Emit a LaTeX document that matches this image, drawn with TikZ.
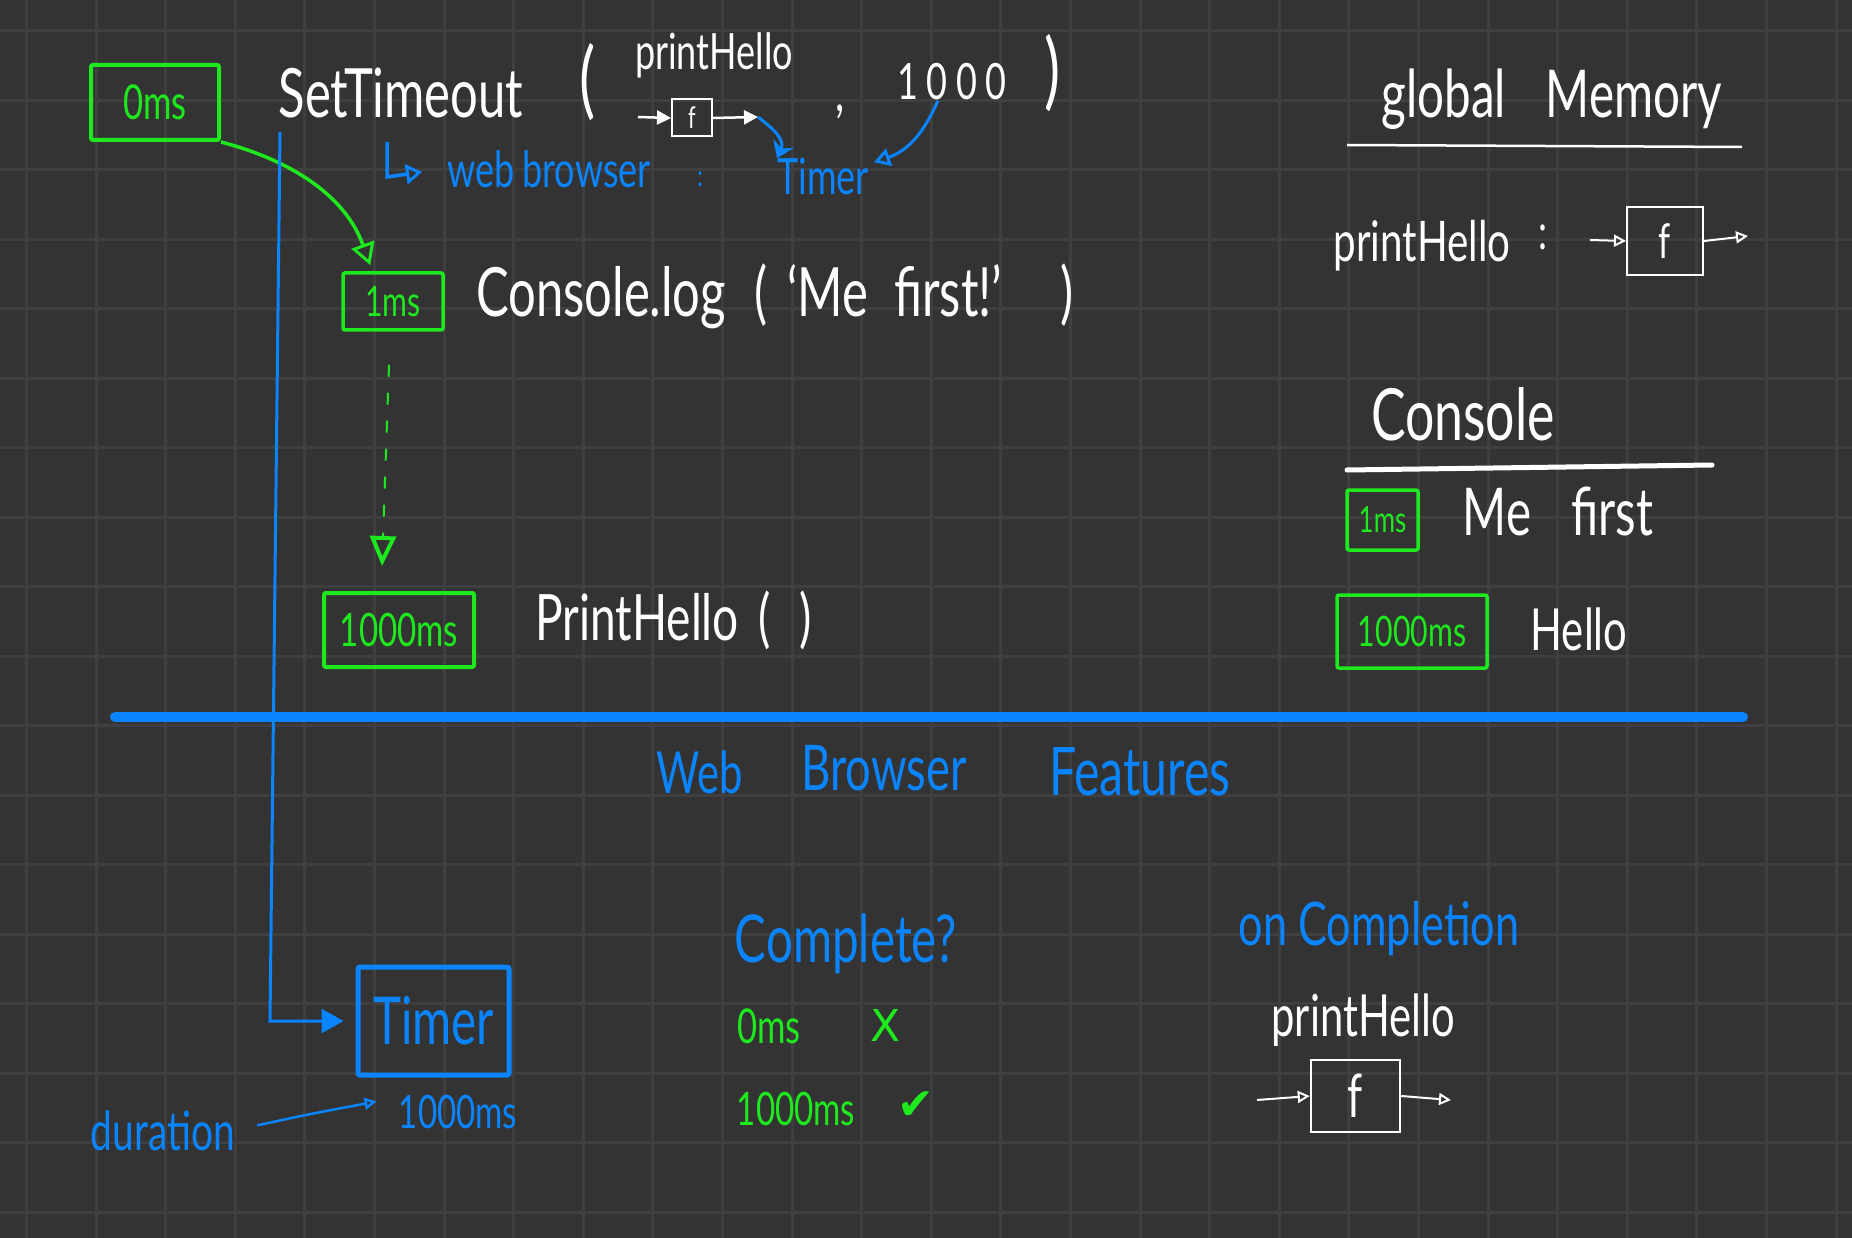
\documentclass[tikz,border=0pt]{standalone}
\usepackage{fontspec}
\setmainfont{Lato}[FakeStretch=0.72]
\newfontfamily\symfont{DejaVu Sans}
\usetikzlibrary{arrows.meta}
\definecolor{bg}{HTML}{333333}
\definecolor{gridc}{HTML}{3F3F3F}
\definecolor{pgreen}{HTML}{1EE81E}
\definecolor{pblue}{HTML}{0A84FF}
\newcommand\fsz[1]{\fontsize{#1}{#1}\selectfont}
\begin{document}
\begin{tikzpicture}[x=1pt,y=-1pt,
  wt/.style={text=white, inner sep=0pt},
  gt/.style={text=pgreen, inner sep=0pt},
  bt/.style={text=pblue, inner sep=0pt},
  gbox/.style={draw=pgreen, text=pgreen, line width=4pt, rounded corners=2pt, inner sep=0pt},
  wbox/.style={draw=white, text=white, line width=2pt, inner sep=0pt},
  bbox/.style={draw=pblue, text=pblue, line width=5pt, rounded corners=2pt, inner sep=0pt},
  garrow/.style={draw=pgreen, line width=3.5pt, -{Triangle[open, length=22pt, width=24pt, line width=3pt]}},
  gdash/.style={draw=pgreen, line width=2pt, dash pattern=on 12pt off 16pt, -{Triangle[open, length=30pt, width=26pt, line width=4pt]}},
  bthin/.style={draw=pblue, line width=3pt},
  warrow/.style={draw=white, line width=2.5pt, -{Triangle[length=14pt, width=14pt]}},
  wopen/.style={draw=white, line width=2pt, -{Triangle[open, length=12pt, width=12pt, line width=2pt]}},
]
\fill[bg] (0,0) rectangle (1852,1238);
\useasboundingbox (0,0) rectangle (1852,1238);
% grid
\foreach \i in {0,...,26} \draw[gridc, line width=3pt] ({26.4+69.6*\i},0) -- ++(0,1238);
\foreach \j in {0,...,17} \draw[gridc, line width=3pt] (0,{30.7+69.5*\j}) -- ++(1852,0);

% ---------- top line: SetTimeout ----------
\node[gbox, minimum width=128pt, minimum height=75pt, font=\fsz{48}] (b0) at (155,102.5) {0ms};
\node[wt, font=\fsz{68}, anchor=base] (st) at (401,118) {SetTimeout};
\node[wt, font=\fsz{84}] (lp) at (588,82) {(};
\node[wt, font=\fsz{50}, anchor=base] (ph) at (714,70) {printHello};
\node[wbox, minimum width=40pt, minimum height=37pt, font=\fsz{30}] (fa) at (692,118) {f};
\coordinate (fa0) at (638,117);
\coordinate (fa1) at (758,117);
\draw[warrow] (fa0) -- (fa.west);
\draw[warrow] (fa.east) -- (fa1);
\node[wt, font=\fsz{56}, anchor=base] (cm) at (840,112) {,};
\node[wt, font=\fsz{50}, anchor=base] (th) at (952,100) {1\,0\,0\,0};
\node[wt, font=\fsz{84}] (rp) at (1053,73) {)};

% web browser : Timer
\coordinate (la) at (387,142);
\coordinate (lb) at (387,177);
\draw[pblue, line width=3.5pt, -{Triangle[open, length=16pt, width=20pt, line width=3pt]}] (la) -- (lb) -- (422,172);
\node[bt, font=\fsz{50}, anchor=base] (wb) at (549,188) {web\hspace{8pt}browser};
\node[bt, font=\fsz{30}, anchor=base] (col) at (700,187) {:};
\node[bt, font=\fsz{50}, anchor=base] (tm) at (823,195) {Timer};
\draw[bthin, -{Stealth[length=16pt, width=22pt]}] (fa1) .. controls (775,130) and (785,140) .. (tm.north west);
\draw[bthin, -{Triangle[open, length=16pt, width=18pt, line width=3pt]}] ([xshift=-14pt]th.south) .. controls (925,130) and (910,150) .. ([xshift=5pt,yshift=-4pt]tm.north east);

% ---------- Console.log ----------
\node[gbox, minimum width=100pt, minimum height=57pt, line width=3.5pt, font=\fsz{42}] (b1) at (393,301.5) {1ms};
\node[wt, font=\fsz{68}, anchor=base west] (cl) at (476,317) {Console.log\hspace{28pt}(\hspace{20pt}‘Me\hspace{26pt}first!’\hspace{58pt})};
\draw[garrow] (b0.south east) .. controls (290,160) and (345,195) .. ([xshift=29pt,yshift=6pt]b1.north west);

% ---------- printHello() ----------
\node[gbox, minimum width=150pt, minimum height=74pt, font=\fsz{46}] (b2) at (399,630) {1000ms};
\draw[gdash] ([xshift=-4pt,yshift=-33pt]b1.south) -- ([xshift=-17pt,yshift=25pt]b2.north);
\node[wt, font=\fsz{64}, anchor=base west] (pc) at (535,640) {PrintHello\hspace{20pt}(\hspace{28pt})};

% ---------- divider ----------
\coordinate (dl) at (115,717);
\coordinate (dr) at (1743,717);
\draw[pblue, line width=10pt, line cap=round] (dl) -- (dr);

% ---------- right panel ----------
\node[wt, font=\fsz{66}, anchor=base] (gm) at (1552,118) {global\hspace{40pt}Memory};
\coordinate (gu0) at (1347,145);
\coordinate (gu1) at (1742,147);
\draw[white, line width=2.5pt] (gu0) -- (gu1);
\node[wt, font=\fsz{56}, anchor=base] (ph2) at (1422,262) {printHello};
\node[wt, font=\fsz{50}, anchor=base] (col2) at (1543,250) {:};
\node[wbox, minimum width=76pt, minimum height=68pt, font=\fsz{48}] (fb) at (1665,241) {f};
\coordinate (fb0) at (1590,240);
\coordinate (fb1) at (1748,236);
\draw[wopen] (fb0) -- (fb.west);
\draw[wopen] (fb.east) -- (fb1);

\node[wt, font=\fsz{72}, anchor=base] (con) at (1463,440) {Console};
\coordinate (cu0) at (1347,470);
\coordinate (cu1) at (1712,465);
\draw[white, line width=5pt, line cap=round] (cu0) -- (cu1);
\node[gbox, minimum width=71pt, minimum height=60pt, line width=3.5pt, font=\fsz{36}] (b3) at (1382.5,520) {1ms};
\node[wt, font=\fsz{66}, anchor=base] (mf) at (1558,535) {Me\hspace{40pt}first};
\node[gbox, minimum width=150pt, minimum height=73pt, line width=3.5pt, font=\fsz{42}] (b4) at (1412,631.5) {1000ms};
\node[wt, font=\fsz{58}, anchor=base] (he) at (1579,650) {Hello};

% ---------- Web Browser Features ----------
\node[bt, font=\fsz{58}, anchor=base] (wf1) at (700,793) {Web};
\node[bt, font=\fsz{63}, anchor=base] (wf2) at (884,790) {Browser};
\node[bt, font=\fsz{67}, anchor=base] (wf3) at (1140,795) {Features};

% timer box
\node[bbox, minimum width=151pt, minimum height=108pt, font=\fsz{66}] (tb) at (433.5,1021) {Timer};
\coordinate (bv) at (280,132);
\coordinate (bc) at (270,1021);
\draw[bthin, -{Triangle[length=22pt, width=24pt]}, shorten >=12pt] (bv) -- (bc) -- (tb.west);

\node[bt, font=\fsz{54}, anchor=base] (dur) at (163,1150) {duration};
\node[bt, font=\fsz{46}, anchor=base] (tms) at (458,1128) {1000ms};
\draw[bthin, line width=2.5pt, -{Triangle[open, length=12pt, width=12pt, line width=2.5pt]}] ([xshift=22pt,yshift=5pt]dur.east) .. controls (310,1114) .. ([xshift=-22pt,yshift=10pt]tms.west);

% complete?
\node[bt, font=\fsz{66}, anchor=base] (cq) at (846,962) {Complete?};
\node[gt, font=\fsz{48}, anchor=base] (z0) at (769,1043) {0ms};
\node[gt, font=\fsz{44}\symfont] (zx) at (886,1025) {X};
\node[gt, font=\fsz{46}, anchor=base] (z1) at (796,1125) {1000ms};
\node[gt, font=\fsz{44}\symfont] (zc) at (916,1106) {✔};

% on completion
\node[bt, font=\fsz{60}, anchor=base] (oc) at (1379,945) {on Completion};
\node[wt, font=\fsz{58}, anchor=base] (ph3) at (1363,1036) {printHello};
\node[wbox, minimum width=89pt, minimum height=72pt, line width=2.5pt, font=\fsz{60}] (fc) at (1355.5,1096) {f};
\coordinate (fc0) at (1257,1100);
\coordinate (fc1) at (1451,1100);
\draw[wopen] (fc0) -- (fc.west);
\draw[wopen] (fc.east) -- (fc1);
\end{tikzpicture}
\end{document}
